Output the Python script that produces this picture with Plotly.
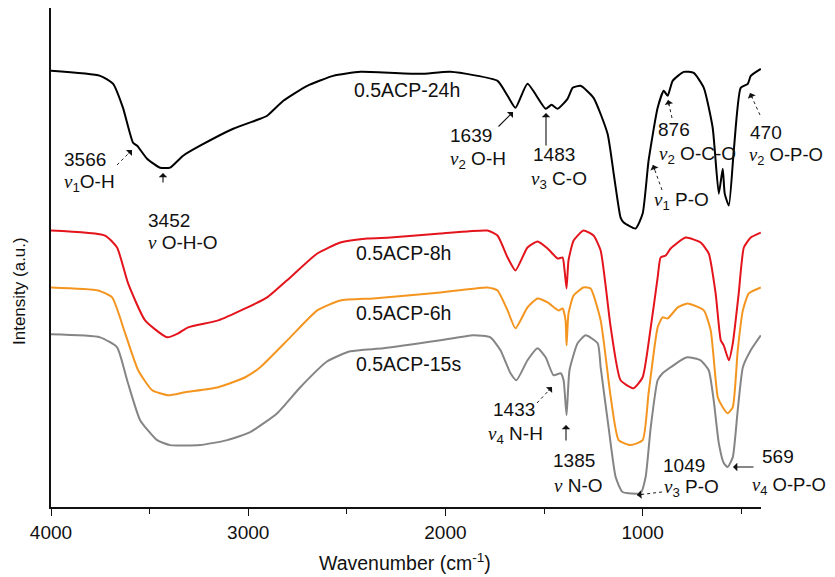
import plotly.graph_objects as go

# ---- data (wavenumber in cm^-1, intensity in arbitrary units) ----
wn_24h = [4000,3751,3685,3635,3584,3563,3513,3447,3396,3330,3244,3076,2939,2904,2822,2701,2569,2431,2127,1975,
          1736,1685,1645,1584,1492,1462,1431,1381,1355,1315,1249,1178,1147,1127,1112,1096,1036,1000,970,924,
          893,873,848,792,741,690,645,614,594,584,563,538,503,467,452,401]
int_24h = [437,432,424,400,365,362,349,340,340,352,362,379,389,392,407,422,432,436,434,436,
           427,412,400,424,399,403,399,409,420,422,410,374,334,307,290,285,279,294,347,400,
           417,412,427,436,435,420,380,314,339,314,302,357,420,424,432,439]

wn_8h = [4000,3726,3665,3609,3523,3411,3355,3305,3152,3015,2904,2787,2650,2533,2396,2279,2025,1787,1736,1685,
         1645,1584,1533,1482,1431,1406,1396,1386,1376,1350,1300,1249,1213,1162,1112,1046,1000,959,924,909,
         883,858,782,706,665,630,604,589,563,543,513,487,452,401]
int_8h = [277,272,260,224,187,170,174,180,187,199,210,230,254,265,269,270,274,277,272,250,
          237,260,266,259,249,250,237,219,247,267,277,272,257,180,127,119,130,180,230,250,
          252,259,270,265,254,214,167,162,147,164,214,260,270,275]

wn_6h = [4000,3761,3690,3624,3558,3487,3406,3320,3152,3015,2939,2787,2650,2533,2366,2193,2025,1787,1736,1685,
         1645,1584,1533,1482,1426,1406,1391,1386,1376,1350,1300,1264,1213,1162,1122,1061,1000,970,924,899,
         873,822,772,690,655,619,594,569,543,518,492,462,401]
int_6h = [220,217,210,174,137,117,112,115,120,130,140,170,197,207,209,212,215,220,217,197,
          179,200,209,205,197,199,187,162,194,212,220,219,187,110,67,62,67,114,180,190,
          189,200,204,197,177,110,100,94,100,157,197,214,220]

wn_15s = [4000,3751,3665,3614,3548,3462,3396,3244,3107,2990,2853,2736,2599,2482,2315,2025,1858,1772,1721,1670,
          1640,1584,1533,1492,1452,1416,1401,1386,1371,1330,1289,1228,1213,1173,1137,1102,1010,985,959,924,
          899,858,807,772,706,665,640,614,589,569,543,518,492,452,401]
int_15s = [173,170,160,127,87,67,62,62,67,75,94,120,146,156,159,167,172,170,157,134,
           127,147,159,150,132,134,127,92,137,164,172,164,140,80,30,15,14,30,80,127,
           134,140,147,150,147,137,107,64,44,40,50,97,140,157,172]

series_names = ["0.5ACP-24h", "0.5ACP-8h", "0.5ACP-6h", "0.5ACP-15s"]
x_ticks = [4000, 3000, 2000, 1000]
x_minor = [3500, 2500, 1500, 500]

# ---- figure (page has an 8px body margin, so the figure is offset by 8px) ----
OFF = 8
W, H = 835 - OFF, 577 - OFF
PX0, PX1, PY0, PY1 = 51, 761, 8, 507  # plot area in page pixels
L, R, T, B = PX0 - OFF, W - (PX1 - OFF), PY0 - OFF, H - (PY1 - OFF)
pw, ph = PX1 - PX0, PY1 - PY0

def P(px, py):
    return (px - PX0) / pw, (PY1 - py) / ph

FONT = "Liberation Sans, Arial, sans-serif"
fig = go.Figure()
colors = ["#000000", "#E3141C", "#F4951F", "#858585"]
for name, xs, ys, c in zip(series_names, [wn_24h, wn_8h, wn_6h, wn_15s],
                           [int_24h, int_8h, int_6h, int_15s], colors):
    fig.add_trace(go.Scatter(x=xs, y=ys, mode="lines", name=name,
                             line=dict(color=c, width=2, shape="spline", smoothing=0.5)))

annotations = []
shapes = []

def label(text, px, py, size=19):
    x, y = P(px, py)
    annotations.append(dict(text=text, x=x, y=y, xref="paper", yref="paper",
                            xanchor="left", yanchor="middle", showarrow=False,
                            font=dict(family=FONT, size=size, color="#111")))

NU = '<span style="font-family:Liberation Serif,serif;font-style:italic">ν</span>'

def nu(sub, rest):
    s = NU
    if sub:
        s += '<sub>%s</sub>' % sub
    return s + rest

for t, px, py in [("0.5ACP-24h", 352, 90), ("0.5ACP-8h", 354, 253),
                  ("0.5ACP-6h", 354, 313), ("0.5ACP-15s", 354, 364)]:
    label(t, px, py, size=19.5)

label("3566", 62, 160); label(nu("1", "O-H"), 62, 183)
label("3452", 146, 220); label(nu("", " O-H-O"), 146, 242)
label("1639", 448, 135); label(nu("2", " O-H"), 448, 160)
label("1483", 531, 155); label(nu("3", " C-O"), 529, 180)
label("876", 656, 129); label(nu("2", " O-C-O"), 657, 155)
label(nu("1", " P-O"), 652, 201)
label("470", 748, 132); label(nu("2", " O-P-O"), 747, 156, size=18.5)
label("1433", 491, 409); label(nu("4", " N-H"), 486, 435)
label("1385", 551, 460); label(nu("", " N-O"), 552, 485)
label("1049", 661, 465); label(nu("3", " P-O"), 662, 488)
label("569", 760, 456); label(nu("4", " O-P-O"), 750, 486, size=18.5)

def arrow(tail, head, dashed=False):
    hx, hy = P(*head)
    if dashed:
        tx, ty = P(*tail)
        shapes.append(dict(type="line", xref="paper", yref="paper", x0=tx, y0=ty, x1=hx, y1=hy,
                           line=dict(color="#222", width=1, dash="dot")))
        dx, dy = tail[0] - head[0], tail[1] - head[1]
        n = (dx * dx + dy * dy) ** 0.5
        ax, ay = dx / n * 7, dy / n * 7
    else:
        ax, ay = tail[0] - head[0], tail[1] - head[1]
    annotations.append(dict(text="", x=hx, y=hy, xref="paper", yref="paper",
                            ax=ax, ay=ay, showarrow=True, arrowhead=1, arrowsize=1.3,
                            arrowwidth=1.1, arrowcolor="#111"))

arrow((117, 165), (132, 150), dashed=True)
arrow((163, 184), (163, 173))
arrow((497, 128), (513, 112))
arrow((546, 147), (546, 113))
arrow((672, 118), (668, 100), dashed=True)
arrow((662, 190), (653, 165), dashed=True)
arrow((760, 115), (750, 93), dashed=True)
arrow((537, 403), (552, 387), dashed=True)
arrow((566, 442), (566, 425))
arrow((662, 492), (637, 495), dashed=True)
arrow((755, 467), (733, 467))

# axis titles
x, y = P(405, 562)
annotations.append(dict(text="Wavenumber (cm<sup>-1</sup>)", x=x, y=y, xref="paper", yref="paper",
                        xanchor="center", yanchor="middle", showarrow=False,
                        font=dict(family=FONT, size=19.5, color="#111")))
x, y = P(19, 291)
annotations.append(dict(text="Intensity (a.u.)", x=x, y=y, xref="paper", yref="paper",
                        xanchor="center", yanchor="middle", showarrow=False, textangle=-90,
                        font=dict(family=FONT, size=17, color="#111")))

fig.update_layout(
    width=W, height=H,
    margin=dict(l=L, r=R, t=T, b=B, pad=0),
    paper_bgcolor="white", plot_bgcolor="white",
    showlegend=False,
    font=dict(family=FONT, size=19, color="#111"),
    annotations=annotations, shapes=shapes,
    xaxis=dict(range=[4000, 400], showgrid=False, zeroline=False,
               showline=True, linecolor="#111", linewidth=1.5,
               ticks="outside", ticklen=7, tickwidth=1.3, tickcolor="#111",
               tickvals=x_ticks, ticktext=[str(v) for v in x_ticks],
               tickfont=dict(family=FONT, size=19, color="#111"),
               minor=dict(tickvals=x_minor, ticks="outside", ticklen=5, tickwidth=1.3, tickcolor="#111")),
    yaxis=dict(range=[0, 500], showgrid=False, zeroline=False,
               showline=True, linecolor="#111", linewidth=1.5,
               showticklabels=False, ticks=""),
)

fig.write_html("out.html")
